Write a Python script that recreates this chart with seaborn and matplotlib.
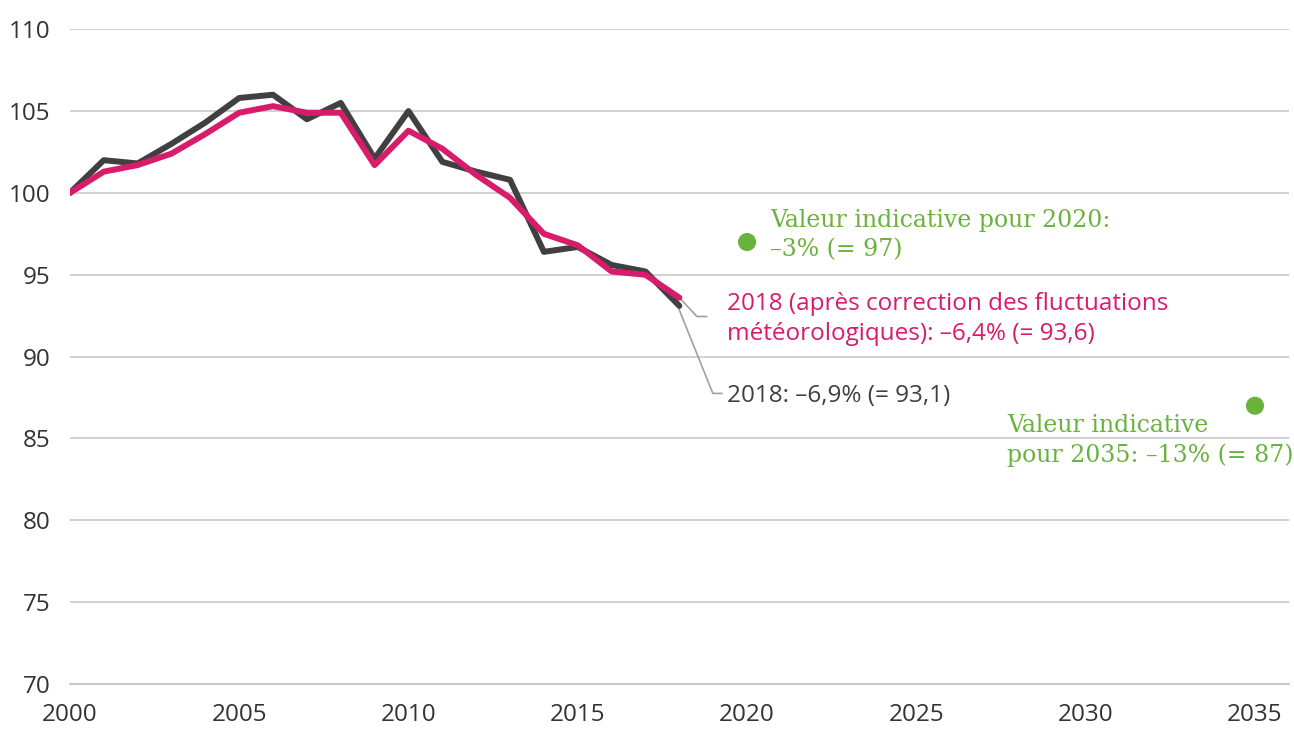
import pandas as pd
import numpy as np
import matplotlib
matplotlib.use("Agg")
import matplotlib.pyplot as plt
import seaborn as sns

# Data (index, 2000 = 100)
years = list(range(2000, 2019))
effectif = [100.0, 102.0, 101.8, 103.0, 104.3, 105.8, 106.0, 104.5, 105.5, 102.1,
            105.0, 101.9, 101.3, 100.8, 96.4, 96.7, 95.6, 95.2, 93.1]
corrige = [100.0, 101.3, 101.7, 102.4, 103.6, 104.9, 105.3, 104.9, 104.9, 101.7,
           103.8, 102.7, 101.1, 99.7, 97.5, 96.8, 95.2, 95.0, 93.6]
target_years = [2020, 2035]
target_values = [97, 87]

dark = "#404040"
pink = "#d81b6a"
green = "#6ab23e"

sns.set_style("white")
plt.rcParams["font.family"] = ["Open Sans", "DejaVu Sans"]

df = pd.DataFrame({
    "Année": years * 2,
    "Valeur": effectif + corrige,
    "Série": ["effectif"] * len(years) + ["corrigé"] * len(years),
})
df_target = pd.DataFrame({"Année": target_years, "Valeur": target_values})

fig = plt.figure(figsize=(12.94, 7.31), dpi=100)
ax = fig.add_axes([0.054, 0.0643, 0.942, 0.8957])

for y in range(75, 111, 5):
    ax.axhline(y, color="#d0d0d0", lw=1.4, zorder=0)

sns.lineplot(data=df, x="Année", y="Valeur", hue="Série",
             palette={"effectif": dark, "corrigé": pink},
             linewidth=4.3, legend=False, ax=ax, zorder=3)
sns.scatterplot(data=df_target, x="Année", y="Valeur", color=green,
                s=170, edgecolor="none", legend=False, ax=ax, zorder=4)

ax.set_xlim(2000, 2036)
ax.set_ylim(70, 110)
ax.set_xticks(range(2000, 2036, 5))
ax.set_xticks(range(2000, 2037), minor=True)
ax.set_yticks(range(70, 111, 5))
ax.set_xlabel("")
ax.set_ylabel("")
for s in ["top", "right", "left"]:
    ax.spines[s].set_visible(False)
ax.spines["bottom"].set_color("#c8c8c8")
ax.spines["bottom"].set_linewidth(1.4)
ax.tick_params(axis="x", which="both", direction="in", length=3.5,
               color="#c8c8c8", width=1.2, labelsize=17.5, labelcolor="#333333", pad=14)
ax.tick_params(axis="y", length=0, labelsize=17.5, labelcolor="#333333", pad=14)

# Leader lines
ax.plot([2018, 2018.52, 2018.81], [93.6, 92.45, 92.45], color="#a0a0a0", lw=1.2, zorder=2)
ax.plot([2017.95, 2018.99, 2019.26], [93.1, 87.75, 87.75], color="#a0a0a0", lw=1.2, zorder=2)

ax.text(2019.4, 92.3, "2018 (après correction des fluctuations\nmétéorologiques): –6,4% (= 93,6)",
        color=pink, fontsize=17.5, va="center", ha="left", linespacing=1.3)
ax.text(2019.4, 87.6, "2018: –6,9% (= 93,1)", color=dark, fontsize=17.5,
        va="center", ha="left")
ax.text(2020.67, 97.4, "Valeur indicative pour 2020:\n–3% (= 97)", color=green,
        fontsize=17, va="center", ha="left", linespacing=1.35, family="DejaVu Serif")
ax.text(2027.67, 84.85, "Valeur indicative\npour 2035: –13% (= 87)", color=green,
        fontsize=17, va="center", ha="left", linespacing=1.35, family="DejaVu Serif")

fig.savefig("out.png", dpi=100)
